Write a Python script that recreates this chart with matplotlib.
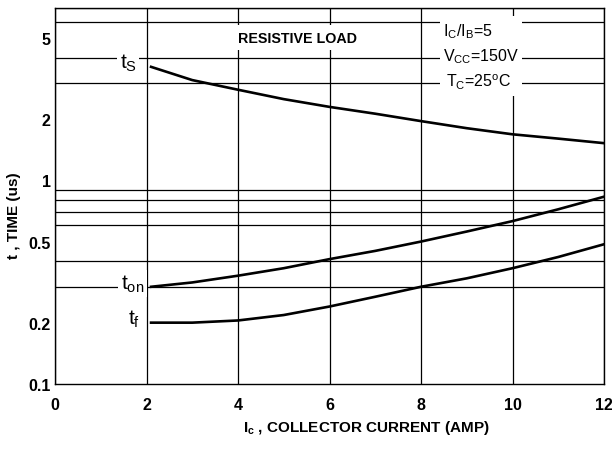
import matplotlib
matplotlib.use("Agg")
import matplotlib.pyplot as plt
from matplotlib.patches import Rectangle
from matplotlib.ticker import FixedLocator, NullFormatter

plt.rcParams['font.family'] = ['Liberation Sans', 'DejaVu Sans']
plt.rcParams['mathtext.fontset'] = 'custom'
plt.rcParams['mathtext.rm'] = 'Liberation Sans'
plt.rcParams['mathtext.it'] = 'Liberation Sans'
plt.rcParams['mathtext.bf'] = 'Liberation Sans:bold'

# Data
ic = [2.1, 3, 4, 5, 6, 7, 8, 9, 10, 11, 12]
t_s = [3.6, 3.1, 2.78, 2.5, 2.29, 2.12, 1.95, 1.8, 1.68, 1.6, 1.52]
t_on = [0.30, 0.315, 0.34, 0.37, 0.41, 0.45, 0.50, 0.56, 0.63, 0.72, 0.83]
t_f = [0.20, 0.20, 0.205, 0.218, 0.24, 0.268, 0.30, 0.33, 0.37, 0.42, 0.485]

x_ticks = [0, 2, 4, 6, 8, 10, 12]
y_major = [0.1, 0.2, 0.5, 1, 2, 5]
y_major_labels = ['0.1', '0.2', '0.5', '1', '2', '5']
y_grid = [0.1, 0.2, 0.3, 0.4, 0.5, 0.6, 0.7, 0.8, 0.9, 1, 2, 3, 4, 5, 6, 7]

fig = plt.figure(figsize=(6.12, 4.52), dpi=100)
ax = fig.add_axes([55/612, 1-385/452, 549/612, 376/452])
ax.set_yscale('log')
ax.set_xlim(0, 12)
ax.set_ylim(0.1, 7)

ax.set_xticks(x_ticks)
ax.set_xticklabels([str(v) for v in x_ticks])
ax.yaxis.set_major_locator(FixedLocator(y_major))
ax.set_yticklabels(y_major_labels)
ax.yaxis.set_minor_locator(FixedLocator(y_grid))
ax.yaxis.set_minor_formatter(NullFormatter())
ax.tick_params(which='both', length=0, labelsize=11.5)
ax.tick_params(axis='x', pad=9)
ax.tick_params(axis='y', pad=3)
for lab in ax.get_xticklabels() + ax.get_yticklabels():
    lab.set_fontweight('bold')

ax.grid(True, which='minor', axis='y', color='black', lw=0.9)
ax.grid(True, which='major', axis='x', color='black', lw=0.9)
ax.set_axisbelow(True)
for sp in ax.spines.values():
    sp.set_linewidth(1.0)

for series in (t_s, t_on, t_f):
    ax.plot(ic, series, color='black', lw=1.9, zorder=2)

wb = dict(facecolor='white', edgecolor='none', pad=2)
ax.text(1.6, 3.8, r'$\mathregular{t}_{\mathregular{S}}$', fontsize=15, ha='center', va='center', bbox=wb, zorder=4)
ax.text(1.7, 0.312, r'$\mathregular{t}_{\mathregular{on}}$', fontsize=15, ha='center', va='center', bbox=wb, zorder=4)
ax.text(1.72, 0.21, r'$\mathregular{t}_{\mathregular{f}}$', fontsize=15, ha='center', va='center', bbox=wb, zorder=4)

ax.text(5.3, 5.0, 'RESISTIVE LOAD', fontsize=10.3, fontweight='bold', ha='center', va='center',
        bbox=dict(facecolor='white', edgecolor='none', pad=4), zorder=4)

ax.add_patch(Rectangle(((440-55)/549, (385-97)/376), 82/549, 80/376, transform=ax.transAxes,
                       facecolor='white', edgecolor='none', zorder=3))
ax.text(8.48, 5.45, r'$\mathregular{I_C/I_B}$=5', fontsize=11.5, ha='left', va='center', zorder=4)
ax.text(8.48, 4.1, r'$\mathregular{V_{CC}}$=150V', fontsize=11.5, ha='left', va='center', zorder=4)
ax.text(8.55, 3.05, r'$\mathregular{T_C}$=25$\mathregular{^o}$C', fontsize=11.5, ha='left', va='center', zorder=4)

fig.text(366/612, 1-428/452, r'$\mathbf{I_c}$ , COLLECTOR CURRENT (AMP)', fontsize=11, fontweight='bold',
         ha='center', va='center')
fig.text(14/612, 1-216/452, 't , TIME (us)', fontsize=11, fontweight='bold', rotation=90,
         ha='center', va='center')

fig.savefig('out.png', dpi=100)
